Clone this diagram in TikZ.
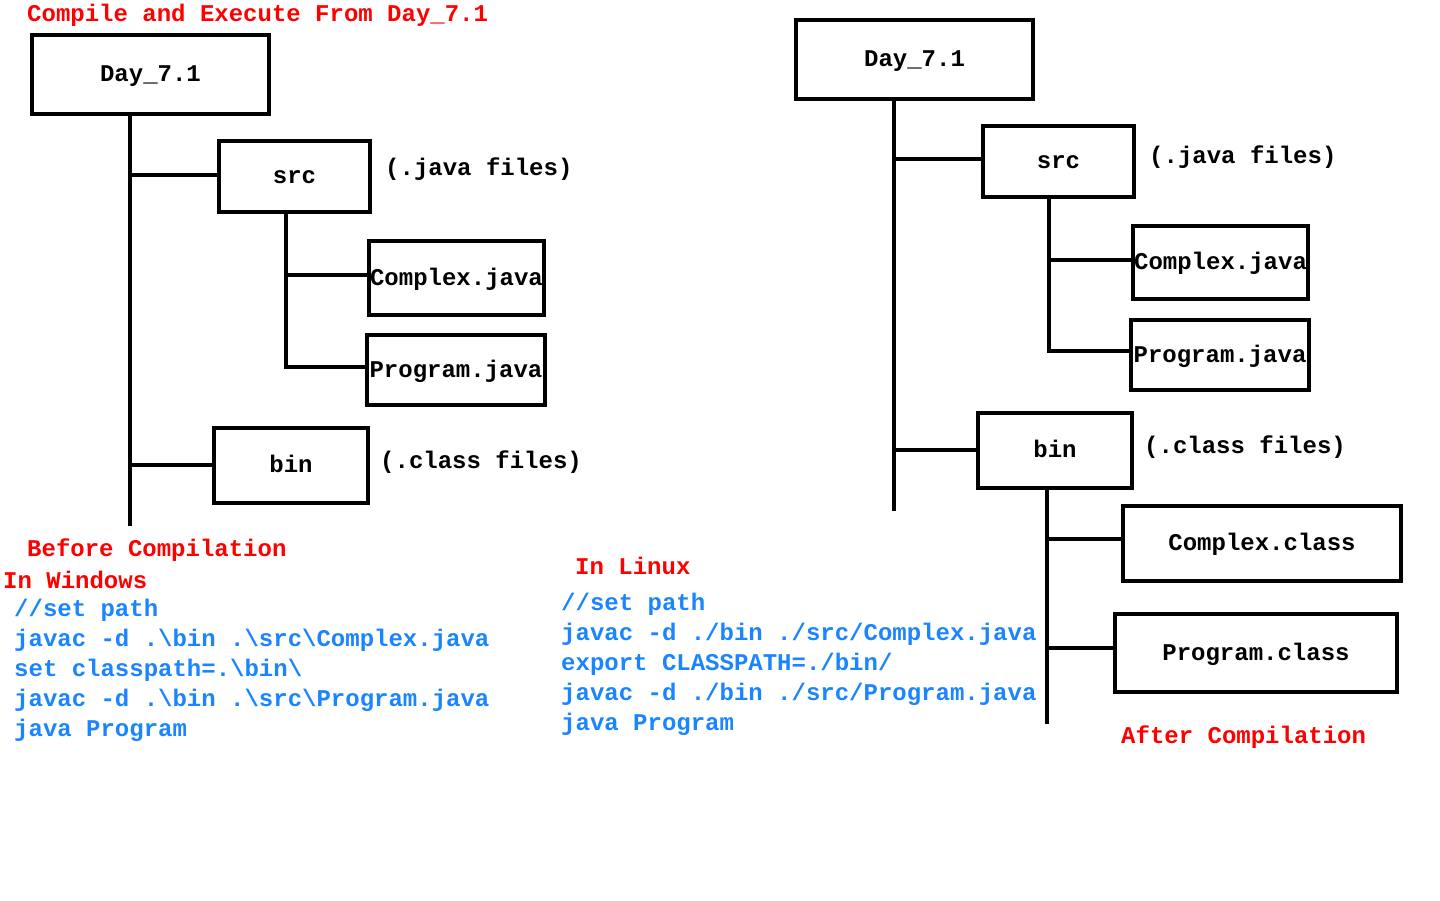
\documentclass[tikz,border=0pt]{standalone}
\usepackage{fontspec}
\setmainfont{Liberation Mono}
\definecolor{tred}{RGB}{255,0,0}
\definecolor{tblue}{RGB}{26,133,255}
\tikzset{
  box/.style={draw=black, line width=4pt, inner sep=0pt, text height=14pt, text depth=0pt, font=\bfseries\fontsize{24}{30}\selectfont},
  txt/.style={anchor=base west, inner sep=0pt, font=\bfseries\fontsize{24}{30}\selectfont},
  red/.style={txt, text=tred},
  blue/.style={txt, text=tblue},
  blk/.style={txt, text=black},
  conn/.style={line width=3.8pt, line cap=rect, line join=miter}
}
\begin{document}
\begin{tikzpicture}[x=1pt,y=-1pt]
\useasboundingbox (0,0) rectangle (1440,900);
\fill[white] (0,0) rectangle (1440,900);

% ---------- left tree ----------
\node[red] (title) at (27,21) {Compile and Execute From Day\_7.1};
\node[box, minimum width=237pt, minimum height=79pt] (dayL) at (150.5,74.5) {Day\_7.1};
\node[box, minimum width=151pt, minimum height=71pt] (srcL) at (294.5,176.5) {src};
\node[box, minimum width=175pt, minimum height=74pt] (cxL) at (456.5,278) {Complex.java};
\node[box, minimum width=178pt, minimum height=70pt] (prL) at (456,370) {Program.java};
\node[box, minimum width=154pt, minimum height=75pt] (binL) at (291,465.5) {bin};
\node[blk] (jfL) at (385,175) {(.java files)};
\node[blk] (cfL) at (380,468) {(.class files)};

\coordinate (tL) at (130,524);
\coordinate (sL) at (286,367);
\draw[conn] (dayL.south -| tL) -- (tL);
\draw[conn] (srcL.west |- 0,175) -- (tL |- 0,175);
\draw[conn] (binL.west |- 0,465) -- (tL |- 0,465);
\draw[conn] (srcL.south -| sL) -- (sL) -- (prL.west |- sL);
\draw[conn] (cxL.west |- 0,275) -- (sL |- 0,275);

\node[red] (beforeL) at (27,556) {Before Compilation};
\node[red] (winL) at (3,588) {In Windows};
\node[blue] (w1) at (14,616) {//set path};
\node[blue] (w2) at (14,646) {javac -d .\textbackslash bin .\textbackslash src\textbackslash Complex.java};
\node[blue] (w3) at (14,676) {set classpath=.\textbackslash bin\textbackslash};
\node[blue] (w4) at (14,706) {javac -d .\textbackslash bin .\textbackslash src\textbackslash Program.java};
\node[blue] (w5) at (14,736) {java Program};

% ---------- right tree ----------
\node[box, minimum width=237pt, minimum height=79pt] (dayR) at (914.5,59.5) {Day\_7.1};
\node[box, minimum width=151pt, minimum height=71pt] (srcR) at (1058.5,161.5) {src};
\node[box, minimum width=175pt, minimum height=73pt] (cxR) at (1220.5,262.5) {Complex.java};
\node[box, minimum width=178pt, minimum height=70pt] (prR) at (1220,355) {Program.java};
\node[box, minimum width=154pt, minimum height=75pt] (binR) at (1055,450.5) {bin};
\node[box, minimum width=278pt, minimum height=75pt] (ccR) at (1262,543.5) {Complex.class};
\node[box, minimum width=282pt, minimum height=78pt] (pcR) at (1256,653) {Program.class};
\node[blk] (jfR) at (1149,163) {(.java files)};
\node[blk] (cfR) at (1144,453) {(.class files)};

\coordinate (tR) at (894,509);
\coordinate (sR) at (1049,351);
\coordinate (bR) at (1047,722);
\draw[conn] (dayR.south -| tR) -- (tR);
\draw[conn] (srcR.west |- 0,159) -- (tR |- 0,159);
\draw[conn] (binR.west |- 0,450) -- (tR |- 0,450);
\draw[conn] (srcR.south -| sR) -- (sR) -- (prR.west |- sR);
\draw[conn] (cxR.west |- 0,260) -- (sR |- 0,260);
\draw[conn] (binR.south -| bR) -- (bR);
\draw[conn] (ccR.west |- 0,539) -- (bR |- 0,539);
\draw[conn] (pcR.west |- 0,648) -- (bR |- 0,648);

\node[red] (afterR) at (1121,743) {After Compilation};
\node[red] (linR) at (575,574) {In Linux};
\node[blue] (l1) at (561,610) {//set path};
\node[blue] (l2) at (561,640) {javac -d ./bin ./src/Complex.java};
\node[blue] (l3) at (561,670) {export CLASSPATH=./bin/};
\node[blue] (l4) at (561,700) {javac -d ./bin ./src/Program.java};
\node[blue] (l5) at (561,730) {java Program};
\end{tikzpicture}
\end{document}
